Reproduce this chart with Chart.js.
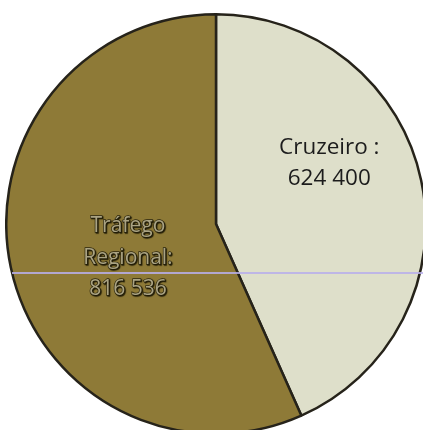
<!DOCTYPE html>
<html>
<head>
<meta charset="utf-8">
<script src="https://cdn.jsdelivr.net/npm/chart.js@4"></script>
<style>
  html, body { margin: 0; padding: 0; background: #fff; width: 423px; height: 430px; overflow: hidden; }
  #wrap { position: absolute; left: 5px; top: 13px; width: 422px; height: 422px; }
</style>
</head>
<body>
<div id="wrap"><canvas id="pie_chart"></canvas></div>
<script>
// data
const categories = ['Cruzeiro', 'Tráfego Regional']
const labelLines = [['Cruzeiro :'], ['Tráfego', 'Regional:']]
const values = [624400, 816536]
const colors = ['#dedfca', '#8e7a37']
const edgeColors = ['#c4c4a8', '#76652b']

// where each label sits, as fraction of the radius from the centre
const labelSpots = [[0.54, -0.29], [-0.42, 0.16]]

function fmt(v) {
    return String(v).replace(/\B(?=(\d{3})+(?!\d))/g, ' ')
}

function sliceFill(ctx) {
    const chart = ctx.chart
    const arc = chart.getDatasetMeta(0).data[ctx.dataIndex]
    if (!arc || !arc.outerRadius) return colors[ctx.dataIndex]
    const g = chart.ctx.createRadialGradient(arc.x, arc.y, 0, arc.x, arc.y, arc.outerRadius)
    g.addColorStop(0, colors[ctx.dataIndex])
    g.addColorStop(0.85, colors[ctx.dataIndex])
    g.addColorStop(1, edgeColors[ctx.dataIndex])
    return g
}

const sliceLabels = {
    id: 'sliceLabels',
    afterDatasetsDraw(chart) {
        const c = chart.ctx
        const arcs = chart.getDatasetMeta(0).data
        c.save()
        c.textAlign = 'center'
        c.textBaseline = 'middle'
        arcs.forEach((arc, i) => {
            const r = arc.outerRadius
            const x = arc.x + labelSpots[i][0] * r
            const y0 = arc.y + labelSpots[i][1] * r
            const lines = labelLines[i].concat([fmt(values[i])])
            const gap = i === 1 ? 31.5 : 31
            const start = y0 - (lines.length - 1) * gap / 2
            c.font = i === 1 ? '21px "Open Sans", sans-serif' : '22.5px "Open Sans", sans-serif'
            lines.forEach((t, k) => {
                const y = start + k * gap
                if (i === 1) {
                    c.save()
                    c.shadowColor = 'rgba(30,25,5,0.9)'
                    c.shadowBlur = 1
                    c.shadowOffsetX = 1
                    c.shadowOffsetY = 1
                    c.lineWidth = 1.3
                    c.strokeStyle = '#2e2810'
                    c.strokeText(t, x, y)
                    c.fillStyle = '#aaa383'
                    c.fillText(t, x, y)
                    c.restore()
                } else {
                    c.fillStyle = '#1c1c1c'
                    c.fillText(t, x, y)
                }
            })
        })
        // scan streak across the picture
        c.strokeStyle = 'rgba(185,175,235,0.85)'
        c.lineWidth = 2
        c.beginPath()
        c.moveTo(12 - 5, 273 - 13)
        c.lineTo(430, 273 - 13)
        c.stroke()
        c.restore()
    }
}

new Chart(document.querySelector('#pie_chart'), {
    type: 'pie',
    data: {
        labels: categories,
        datasets: [{
            data: values,
            backgroundColor: sliceFill,
            borderColor: '#26231a',
            borderWidth: 2.5
        }]
    },
    options: {
        responsive: true,
        maintainAspectRatio: false,
        animation: false,
        layout: { padding: 0 },
        plugins: {
            legend: { display: false },
            tooltip: { enabled: false }
        }
    },
    plugins: [sliceLabels]
})
</script>
</body>
</html>
